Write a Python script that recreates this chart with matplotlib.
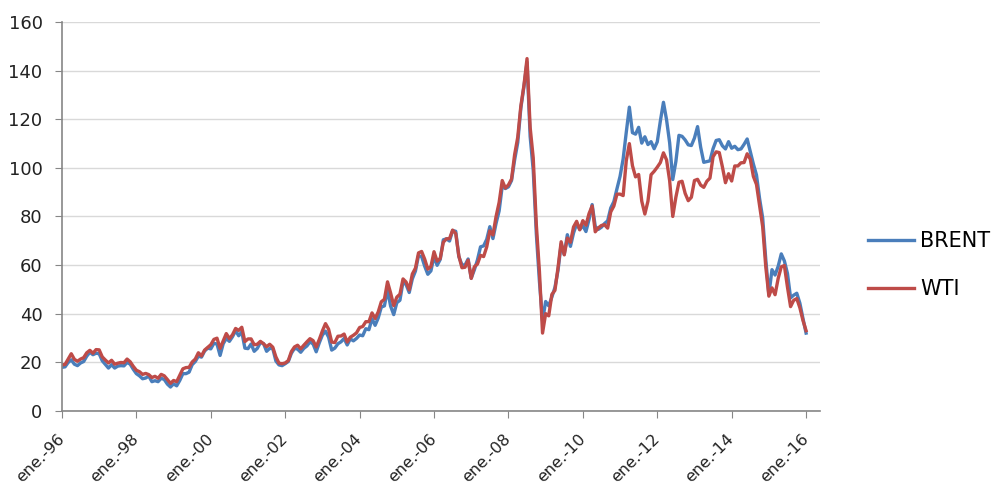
import numpy as np
import matplotlib
matplotlib.use('Agg')
import matplotlib.pyplot as plt

# monthly prices (USD/bbl), Jan 1996 .. Jan 2016
brent = [
    17.9, 18.1, 19.9, 21.0, 19.2, 18.6, 19.7, 20.3, 22.5, 24.1, 23.1, 23.7,  # 1996
    23.5, 20.6, 19.1, 17.6, 19.0, 17.6, 18.4, 18.6, 18.5, 19.9, 19.2, 17.1,  # 1997
    15.3, 14.4, 13.2, 13.5, 14.3, 12.0, 12.4, 12.0, 13.4, 12.9, 11.0, 9.8,   # 1998
    11.1, 10.3, 12.5, 15.3, 15.3, 15.9, 19.0, 20.3, 22.5, 22.1, 24.6, 25.8,  # 1999
    25.5, 27.8, 27.5, 22.8, 27.6, 29.8, 28.6, 30.5, 33.0, 30.9, 32.5, 25.8,  # 2000
    25.6, 27.5, 24.5, 25.7, 28.1, 27.7, 24.5, 25.7, 25.6, 20.5, 18.9, 18.6,  # 2001
    19.4, 20.3, 23.7, 25.7, 25.4, 24.1, 25.7, 26.7, 28.4, 27.5, 24.3, 28.0,  # 2002
    31.2, 32.8, 30.3, 25.0, 25.8, 27.6, 28.4, 29.8, 27.1, 29.6, 28.8, 29.8,  # 2003
    31.2, 30.9, 33.8, 33.4, 37.9, 35.2, 38.2, 42.7, 43.2, 49.8, 43.1, 39.6,  # 2004
    44.5, 45.5, 53.1, 51.9, 48.7, 54.3, 57.5, 63.9, 63.5, 59.5, 56.2, 57.6,  # 2005
    63.6, 59.9, 62.3, 70.4, 70.8, 69.9, 74.2, 73.9, 63.5, 60.1, 60.0, 62.5,  # 2006
    54.6, 58.0, 62.1, 67.5, 67.9, 70.6, 75.8, 70.9, 77.1, 82.3, 92.5, 91.5,  # 2007
    92.2, 94.8, 103.3, 110.4, 124.6, 133.5, 143.5, 113.0, 99.0, 72.8, 53.2, 37.0,  # 2008
    45.0, 43.2, 46.8, 50.8, 57.9, 68.6, 64.4, 72.5, 67.7, 73.2, 77.0, 74.7,  # 2009
    76.2, 73.8, 78.8, 84.9, 75.9, 74.7, 75.6, 77.1, 78.2, 83.5, 86.1, 91.4,  # 2010
    96.5, 103.7, 114.6, 125.0, 114.5, 113.9, 116.7, 110.2, 112.8, 109.6, 110.8, 107.9,  # 2011
    110.7, 119.3, 127.0, 119.8, 110.3, 95.2, 102.6, 113.4, 113.0, 111.5, 109.5, 109.2,  # 2012
    112.3, 117.0, 108.5, 102.3, 102.6, 102.9, 107.9, 111.3, 111.6, 109.1, 107.8, 110.8,  # 2013
    108.1, 108.9, 107.5, 107.8, 109.7, 111.9, 106.8, 101.6, 97.1, 87.4, 79.4, 62.3,  # 2014
    47.8, 58.1, 55.9, 59.5, 64.6, 61.7, 56.5, 46.5, 47.6, 48.4, 44.3, 38.0,  # 2015
    32.0,  # 2016
]

wti = [
    18.9, 19.1, 21.3, 23.5, 21.2, 20.4, 21.3, 21.9, 23.9, 24.9, 23.7, 25.2,  # 1996
    25.1, 22.2, 20.9, 19.7, 20.8, 19.2, 19.6, 19.9, 19.8, 21.3, 20.2, 18.3,  # 1997
    16.7, 16.1, 15.0, 15.4, 14.9, 13.7, 14.2, 13.4, 15.0, 14.4, 12.9, 11.3,  # 1998
    12.5, 12.0, 14.7, 17.3, 17.8, 17.9, 20.1, 21.3, 23.9, 22.6, 25.0, 26.1,  # 1999
    27.2, 29.4, 29.9, 25.7, 28.8, 31.8, 29.7, 31.3, 33.9, 33.1, 34.4, 28.5,  # 2000
    29.6, 29.6, 27.2, 27.4, 28.6, 27.6, 26.4, 27.4, 26.2, 22.2, 19.6, 19.4,  # 2001
    19.7, 20.7, 24.4, 26.3, 27.0, 25.5, 27.0, 28.4, 29.7, 28.9, 26.3, 29.4,  # 2002
    32.9, 35.9, 33.6, 28.3, 28.1, 30.7, 30.8, 31.6, 28.3, 30.3, 31.1, 32.1,  # 2003
    34.3, 34.7, 36.7, 36.7, 40.3, 38.0, 40.7, 44.9, 45.9, 53.1, 48.5, 43.3,  # 2004
    46.8, 48.0, 54.3, 53.0, 49.8, 56.3, 58.7, 65.0, 65.6, 62.4, 58.3, 59.4,  # 2005
    65.5, 61.6, 62.7, 69.4, 70.8, 70.9, 74.4, 73.0, 63.8, 58.9, 59.1, 62.0,  # 2006
    54.5, 59.3, 60.4, 64.0, 63.5, 67.5, 74.1, 72.4, 79.9, 85.8, 94.8, 91.7,  # 2007
    93.0, 95.4, 105.5, 112.6, 125.4, 133.9, 145.0, 116.7, 104.1, 76.6, 57.3, 32.0,  # 2008
    40.0, 39.1, 47.9, 49.6, 59.0, 69.6, 64.2, 71.1, 69.4, 75.7, 78.0, 74.5,  # 2009
    78.3, 76.4, 81.2, 84.3, 73.7, 75.3, 76.3, 76.6, 75.2, 81.9, 84.3, 89.2,  # 2010
    89.2, 88.6, 102.9, 110.0, 100.9, 96.3, 97.3, 86.3, 81.0, 86.3, 97.2, 98.6,  # 2011
    100.3, 102.2, 106.2, 103.3, 94.7, 80.0, 87.9, 94.1, 94.5, 89.5, 86.5, 87.9,  # 2012
    94.8, 95.3, 92.9, 92.0, 94.5, 95.8, 104.6, 106.6, 106.3, 100.5, 93.9, 97.6,  # 2013
    94.6, 100.8, 100.8, 102.1, 102.2, 105.8, 103.6, 96.5, 93.2, 84.4, 75.8, 59.3,  # 2014
    47.2, 50.6, 47.8, 54.5, 59.3, 59.8, 50.9, 42.9, 45.5, 46.2, 42.4, 37.2,  # 2015
    33.0,  # 2016
]

tick_years = list(range(1996, 2017, 2))
tick_labels = ['ene.-96', 'ene.-98', 'ene.-00', 'ene.-02', 'ene.-04', 'ene.-06',
               'ene.-08', 'ene.-10', 'ene.-12', 'ene.-14', 'ene.-16']

# month index -> fractional year
t = 1996 + np.arange(len(brent)) / 12.0

fig = plt.figure(figsize=(9.93, 4.92), dpi=100)
ax = fig.add_axes([0.0624, 0.165, 0.7636, 0.790])

ax.plot(t, brent, color='#4A7EBB', lw=2.4, label='BRENT', solid_joinstyle='round')
ax.plot(t, wti, color='#BE4B48', lw=2.4, label='WTI', solid_joinstyle='round')

ax.set_ylim(0, 160)
ax.set_yticks(range(0, 161, 20))
ax.set_xlim(1996, 2016.38)
ax.set_xticks(tick_years)
ax.set_xticklabels(tick_labels, rotation=45, ha='right', va='center',
                   rotation_mode='anchor')

ax.grid(axis='y', color='#D9D9D9', lw=1)
ax.set_axisbelow(True)
for s in ['top', 'right']:
    ax.spines[s].set_visible(False)
for s in ['left', 'bottom']:
    ax.spines[s].set_color('#868686')
    ax.spines[s].set_linewidth(1.2)

ax.tick_params(axis='y', length=5, color='#868686', labelsize=13,
               labelcolor='#222222', pad=9)
ax.tick_params(axis='x', length=5, color='#868686', labelsize=11.5,
               labelcolor='#222222', pad=13.5)

fig.legend(loc='center left', bbox_to_anchor=(0.874, 0.461), frameon=False,
           fontsize=15, handlelength=2.2, handletextpad=0.3, labelspacing=1.35,
           borderpad=0, borderaxespad=0)

fig.savefig('out.png', dpi=100)
